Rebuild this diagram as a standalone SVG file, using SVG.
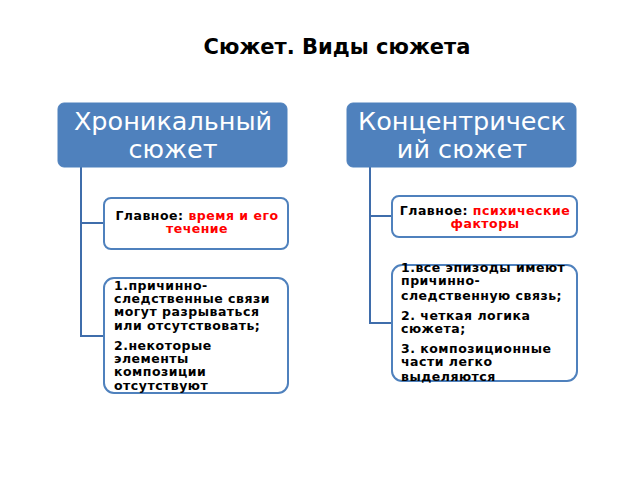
<svg xmlns="http://www.w3.org/2000/svg" width="640" height="480" viewBox="0 0 640 480">
<style>
.hdr{fill:#4F81BD;stroke:#4F81BD;stroke-width:1}
.hdrt{font-family:"DejaVu Sans",Verdana,sans-serif;font-size:25.5px;fill:#fff;text-anchor:middle}
.box{fill:#fff;stroke:#4F81BD;stroke-width:2}
.bt{font-family:"DejaVu Sans","Noto Sans",sans-serif;font-size:12.5px;font-weight:bold;fill:#000;letter-spacing:0.5px}
.red{fill:#FF0000}
.con{fill:none;stroke:#3F6DAB;stroke-width:2}
</style>
<rect width="640" height="480" fill="#fff"/>
<text x="337" y="54" font-family="DejaVu Sans, sans-serif" font-size="21" font-weight="bold" text-anchor="middle" fill="#000">Сюжет. Виды сюжета</text>
<g id="connectors">
<path class="con" d="M81 167 V336 H105 M81 223 H105"/>
<path class="con" d="M370 167 V323 H393 M370 216 H393"/>
</g>
<g id="hdr-left">
<rect class="hdr" x="58" y="103" width="229" height="64" rx="6"/>
<text class="hdrt" x="173" y="130">Хроникальный</text>
<text class="hdrt" x="173" y="158">сюжет</text>
</g>
<g id="hdr-right">
<rect class="hdr" x="347" y="103" width="229" height="64" rx="6"/>
<text class="hdrt" x="462" y="130">Концентрическ</text>
<text class="hdrt" x="462" y="158">ий сюжет</text>
</g>
<g id="left-main">
<rect class="box" x="104" y="198" width="184" height="51" rx="7"/>
<text class="bt" x="197" y="220" text-anchor="middle">Главное: <tspan class="red">время и его</tspan></text>
<text class="bt red" x="197" y="233" text-anchor="middle">течение</text>
</g>
<g id="left-list">
<rect class="box" x="104" y="278" width="184" height="115" rx="10"/>
<text class="bt" x="114" y="290">1.причинно-</text>
<text class="bt" x="114" y="303">следственные связи</text>
<text class="bt" x="114" y="316">могут разрываться</text>
<text class="bt" x="114" y="330">или отсутствовать;</text>
<text class="bt" x="114" y="350">2.некоторые</text>
<text class="bt" x="114" y="363">элементы</text>
<text class="bt" x="114" y="376">композиции</text>
<text class="bt" x="114" y="390">отсутствуют</text>
</g>
<g id="right-main">
<rect class="box" x="392" y="196" width="185" height="41" rx="7"/>
<text class="bt" x="485" y="215" text-anchor="middle">Главное: <tspan class="red">психические</tspan></text>
<text class="bt red" x="485" y="228" text-anchor="middle">факторы</text>
</g>
<g id="right-list">
<rect class="box" x="392" y="265" width="185" height="116" rx="10"/>
<text class="bt" x="401" y="272">1.все эпизоды имеют</text>
<text class="bt" x="401" y="285">причинно-</text>
<text class="bt" x="401" y="300">следственную связь;</text>
<text class="bt" x="401" y="320">2. четкая логика</text>
<text class="bt" x="401" y="333">сюжета;</text>
<text class="bt" x="401" y="353">3. композиционные</text>
<text class="bt" x="401" y="366">части легко</text>
<text class="bt" x="401" y="381">выделяются</text>
</g>
</svg>
